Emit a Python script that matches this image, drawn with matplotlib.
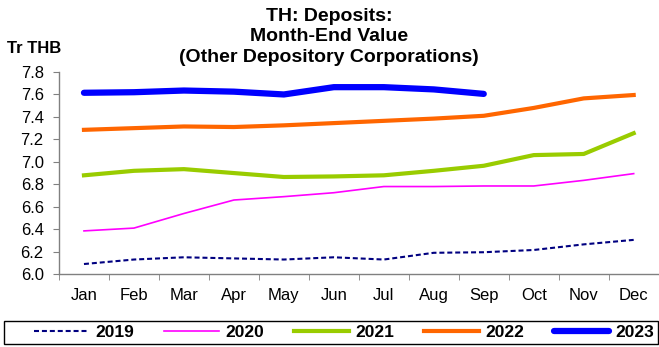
import matplotlib.pyplot as plt
from matplotlib.patches import Rectangle
import numpy as np

# Month-end deposit values, trillion THB
months = ['Jan', 'Feb', 'Mar', 'Apr', 'May', 'Jun', 'Jul', 'Aug', 'Sep', 'Oct', 'Nov', 'Dec']
dep_2019 = [6.09, 6.13, 6.15, 6.14, 6.13, 6.15, 6.13, 6.19, 6.195, 6.215, 6.265, 6.305]
dep_2020 = [6.385, 6.41, 6.54, 6.66, 6.69, 6.725, 6.78, 6.78, 6.785, 6.785, 6.835, 6.895]
dep_2021 = [6.88, 6.92, 6.935, 6.90, 6.865, 6.87, 6.88, 6.92, 6.965, 7.06, 7.07, 7.255]
dep_2022 = [7.285, 7.30, 7.315, 7.31, 7.325, 7.345, 7.365, 7.385, 7.41, 7.48, 7.565, 7.595]
dep_2023 = [7.615, 7.62, 7.635, 7.625, 7.60, 7.665, 7.665, 7.645, 7.605]

plt.rcParams['font.family'] = ['Liberation Sans', 'DejaVu Sans']

fig = plt.figure(figsize=(6.59, 3.47), dpi=100)
ax = fig.add_axes([0.0895, 0.21, 0.91, 0.5825])

x = np.arange(len(months))
ax.plot(x, dep_2019, color='#000080', lw=1.5, ls=(0, (2.4, 1.4)), label='2019')
ax.plot(x, dep_2020, color='#FF00FF', lw=1.2, label='2020')
ax.plot(x, dep_2021, color='#99CC00', lw=3, label='2021')
ax.plot(x, dep_2022, color='#FF6600', lw=3, label='2022')
ax.plot(x[:len(dep_2023)], dep_2023, color='#0000FF', lw=4.5, solid_capstyle='round', label='2023')

ax.set_xlim(-0.5, 11.5)
ax.set_ylim(6.0, 7.8)
yt = np.arange(6.0, 7.81, 0.2)
ax.set_yticks(yt)
ax.set_yticklabels([f'{v:.1f}' for v in yt], fontsize=12)

# month labels centred, tick marks on category boundaries
ax.set_xticks(x)
ax.set_xticklabels(months, fontsize=12)
ax.tick_params(axis='x', length=0, pad=10)
ax.set_xticks(np.arange(-0.5, 12, 1), minor=True)
ax.tick_params(axis='x', which='minor', length=4, color='#808080', direction='out')
ax.tick_params(axis='y', length=4, color='#808080', direction='out', pad=7)

for s in ['top', 'right']:
    ax.spines[s].set_visible(False)
for s in ['left', 'bottom']:
    ax.spines[s].set_color('#808080')
    ax.spines[s].set_linewidth(1.0)

fig.text(0.4995, 0.978, 'TH: Deposits:\nMonth-End Value\n(Other Depository Corporations)',
         ha='center', va='top', fontsize=14, fontweight='bold', linespacing=1.28)
fig.text(0.01, 0.86, 'Tr THB', ha='left', va='center', fontsize=12, fontweight='bold')

# legend strip along the bottom with its own box
fig.patches.append(Rectangle((0.0068, 0.0086), 0.9917, 0.0663, transform=fig.transFigure,
                             fill=False, edgecolor='black', linewidth=1.0))
fig.legend(loc='center', bbox_to_anchor=(0.522, 0.0418), ncol=5, frameon=False,
           handlelength=3.2, handletextpad=0.35, columnspacing=1.7,
           prop={'weight': 'bold', 'size': 12.5}, borderaxespad=0)

fig.savefig('out.png', dpi=100)
